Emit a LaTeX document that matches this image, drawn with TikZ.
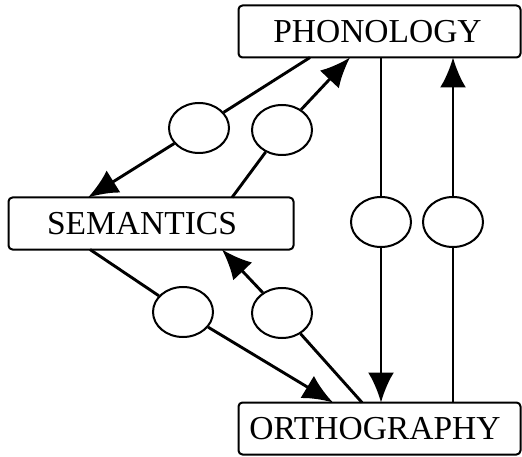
\documentclass[tikz,border=0pt]{standalone}
\usepackage{fontspec}
\setmainfont{Liberation Serif}
\usetikzlibrary{shapes.geometric,arrows.meta}
\newcommand{\padr}[1]{\rule{#1}{0pt}}
\begin{document}
\begin{tikzpicture}[x=1pt,y=-1pt,
  box/.style={draw,line width=2pt,rounded corners=4pt,inner sep=0pt,
    minimum width=282pt,minimum height=52pt,
    font=\fontsize{33.5}{36}\selectfont,text depth=0pt},
  oval/.style={draw,ellipse,line width=2pt,inner sep=0pt,
    minimum width=60pt,minimum height=50pt},
  conn/.style={line width=2.9pt},
  arr/.style={conn,-{Latex[length=30pt,width=26pt]}}]
\useasboundingbox (0,0) rectangle (522,457);
% boxes
\node[box] (phon) at (379.5,31.5) {PHONOLOGY\padr{4pt}};
\node[box,minimum width=285pt] (sem) at (151,223.5) {SEMANTICS\padr{18pt}};
\node[box] (orth) at (379.5,428.5) {ORTHOGRAPHY\padr{9pt}};
% ovals
\node[oval] (e1) at (199,128) {};
\node[oval] (e2) at (282,130) {};
\node[oval] (e3) at (381,222) {};
\node[oval] (e4) at (453,222) {};
\node[oval] (e5) at (183,312) {};
\node[oval] (e6) at (282,313) {};
% attachment points on the boxes
\coordinate (p1) at (310,57.5);
\coordinate (s1) at (88,197.5);
\coordinate (s2) at (232,197.5);
\coordinate (p2) at (350,57.5);
\coordinate (p3) at (381,57.5);
\coordinate (o3) at (381,402.5);
\coordinate (o4) at (453,402.5);
\coordinate (p4) at (453,57.5);
\coordinate (s5) at (90,249.5);
\coordinate (o5) at (333,402.5);
\coordinate (o6) at (362,402.5);
\coordinate (s6) at (222,249.5);
% connectors
\draw[conn] (p1) -- (e1);
\draw[arr] (e1) -- (s1);
\draw[conn] (s2) -- (e2);
\draw[arr] (e2) -- (p2);
\draw[conn] (p3) -- (e3);
\draw[arr] (e3) -- (o3);
\draw[conn] (o4) -- (e4);
\draw[arr] (e4) -- (p4);
\draw[conn] (s5) -- (e5);
\draw[arr] (e5) -- (o5);
\draw[conn] (o6) -- (e6);
\draw[arr] (e6) -- (s6);
\end{tikzpicture}
\end{document}
